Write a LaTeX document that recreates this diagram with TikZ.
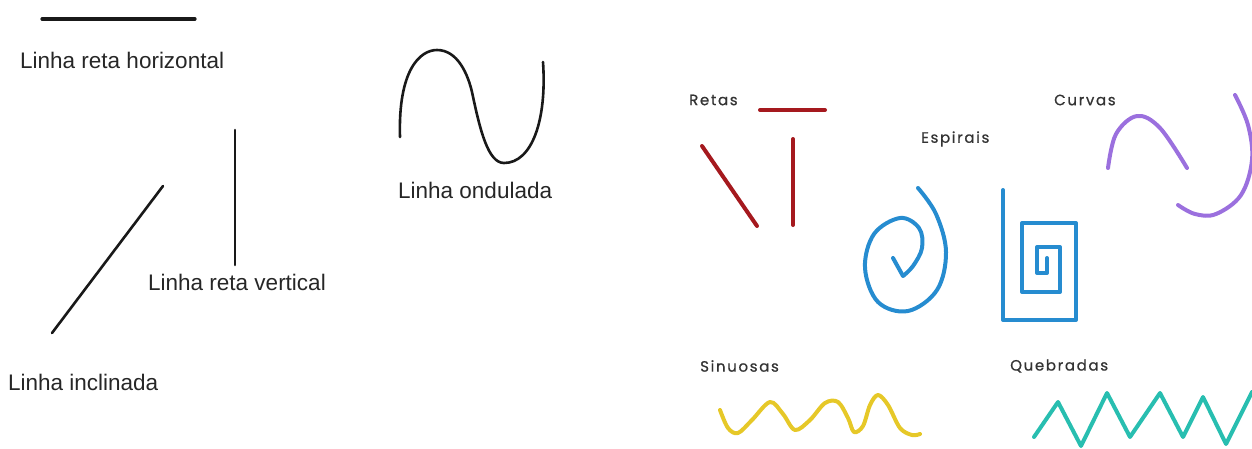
\documentclass[tikz,border=0pt]{standalone}
\usepackage{fontspec}
\setmainfont{Liberation Sans}
\newfontfamily\geofont[LetterSpace=11, FakeBold=0.7]{Poppins}
\definecolor{retared}{RGB}{165,25,30}
\definecolor{curvapurple}{RGB}{155,112,222}
\definecolor{espiralblue}{RGB}{38,140,208}
\definecolor{sinuyellow}{RGB}{230,200,40}
\definecolor{quebteal}{RGB}{40,190,176}

\begin{document}
\begin{tikzpicture}[x=1pt, y=-1pt, line cap=round, line join=round,
    lbl/.style={inner sep=0pt, anchor=west, text=black!85, font=\fontsize{22.5}{25}\selectfont},
    cat/.style={inner sep=0pt, anchor=west, text=black!80, font=\geofont\fontsize{15}{17}\selectfont},
    blackline/.style={line width=2.6pt, black!90},
    colline/.style={line width=4pt}]
        \useasboundingbox (0,0) rectangle (1252,448);
        % left part
        \node(100) at (20,60) [lbl] {Linha reta horizontal};
        \node(101) at (398,190) [lbl] {Linha ondulada};
        \node(102) at (148,282) [lbl] {Linha reta vertical};
        \node(103) at (8,382) [lbl] {Linha inclinada};
        \draw [blackline, line width=3.2pt] (42,19) -- (195,19);
        \draw [blackline] (235,130) -- (235,265);
        \draw [blackline] (163,186) -- (52,333);
        \draw [blackline] (400,137) .. controls (398,70) and (420,50) .. (437,50)
            .. controls (458,50) and (468,75) .. (472,92)
            .. controls (480,130) and (488,163) .. (504,163)
            .. controls (532,163) and (547,120) .. (543,62);
        % right part
        \node(110) at (689,100) [cat] {Retas};
        \node(111) at (921,139) [cat] {Espirais};
        \node(112) at (1054,100) [cat] {Curvas};
        \node(113) at (700,366) [cat] {Sinuosas};
        \node(114) at (1010,366) [cat] {Quebradas};
        \draw [colline, retared] (760,110) -- (825,110);
        \draw [colline, retared] (702,146) -- (757,226);
        \draw [colline, retared] (793,139) -- (793,225);
        \draw [colline, curvapurple] plot [smooth, tension=0.6] coordinates
            {(1108,168) (1116,134) (1137,116) (1160,128) (1187,168)};
        \begin{scope}
            \clip (1100,80) rectangle (1252,240);
            \draw [colline, curvapurple] plot [smooth, tension=0.6] coordinates
                {(1235,95) (1248,125) (1252,160) (1241,195) (1216,214) (1195,214) (1178,205)};
        \end{scope}
        \draw [colline, espiralblue] plot [smooth, tension=0.6] coordinates
            {(918,188) (936,214) (946,252) (937,290) (908,311) (878,302) (865,268)
             (874,234) (900,218) (919,228) (922,248) (913,266) (903,276)}
            -- (893,258);
        \draw [colline, espiralblue] (1003,190) -- (1003,320) -- (1076,320) -- (1076,223)
            -- (1022,223) -- (1022,292) -- (1060,292) -- (1060,247) -- (1037,247)
            -- (1037,273) -- (1047,273) -- (1047,258);
        \draw [colline, sinuyellow] plot [smooth, tension=0.55] coordinates
            {(720,410) (728,428) (738,433) (752,420) (770,402) (783,414) (795,430)
             (810,420) (825,403) (838,402) (848,418) (854,432) (863,426) (870,405)
             (878,395) (888,405) (900,428) (912,435) (920,434)};
        \begin{scope}
            \clip (1000,380) rectangle (1252,448);
            \draw [colline, quebteal] (1034,437) -- (1058,402) -- (1081,446) -- (1107,393)
                -- (1130,437) -- (1160,393) -- (1183,437) -- (1203,397) -- (1226,444) -- (1252,392);
        \end{scope}
    \end{tikzpicture}
\end{document}
